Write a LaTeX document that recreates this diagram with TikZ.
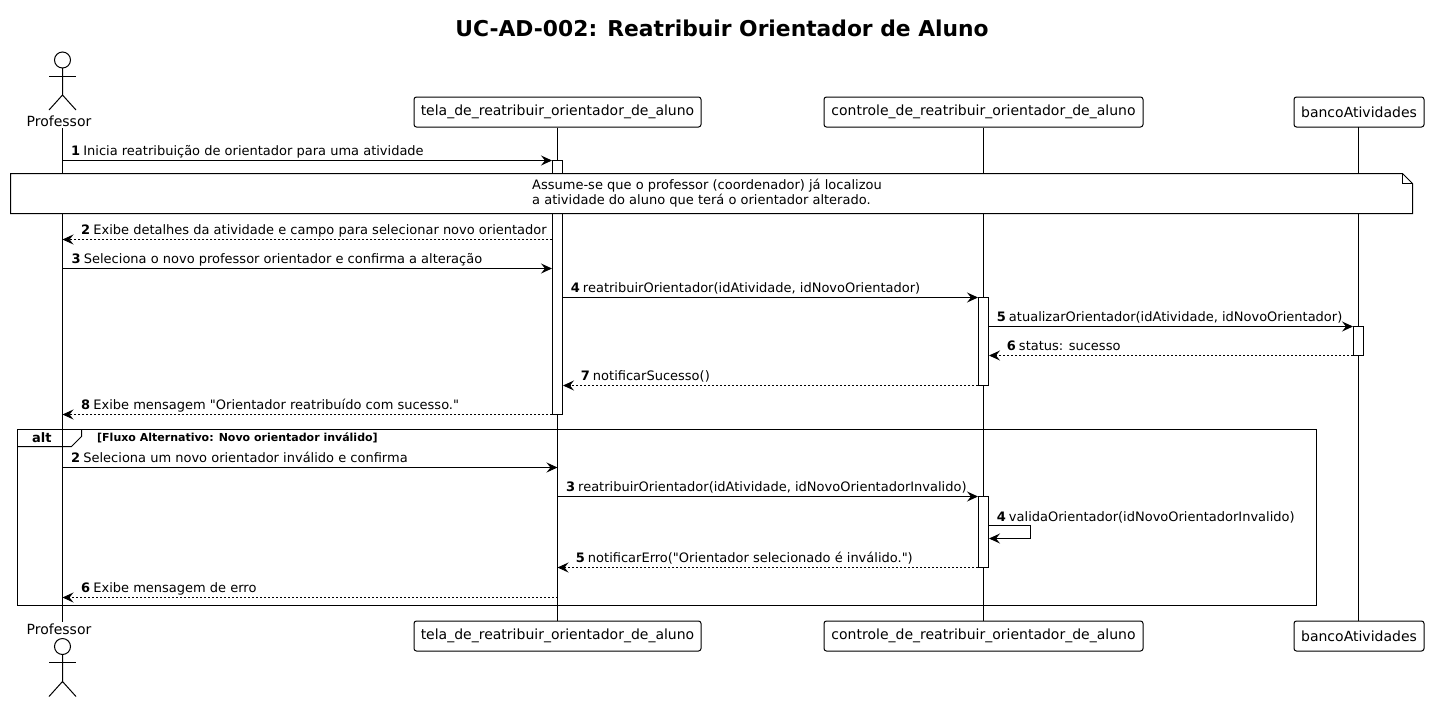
\documentclass[tikz,border=0pt]{standalone}
\usepackage{fontspec}
\setmainfont{DejaVu Sans}
\newfontfamily\msgfont{DejaVu Sans}
\usetikzlibrary{arrows.meta}

\newcommand{\seqno}[1]{\textbf{#1}\hspace{-1pt} }

\tikzset{
    party/.style={draw, line width=1pt, fill=white, rounded corners=2.5pt, minimum height=30pt, inner sep=0pt, font=\fontsize{14}{16}\selectfont},
    actorname/.style={inner sep=0pt, font=\fontsize{14}{16}\selectfont},
    lifebar/.style={draw, line width=1pt, fill=white, minimum width=10pt, inner sep=0pt},
    call/.style={line width=1pt, -{Stealth[length=11pt, width=10pt, inset=4pt]}},
    reply/.style={call, dash pattern=on 2pt off 2pt},
    msg/.style={anchor=base west, inner sep=0pt, font=\fontsize{13}{15}\selectfont\msgfont},
    guard/.style={anchor=base west, inner sep=0pt, font=\fontsize{11}{13}\selectfont\bfseries},
}

\begin{document}
\begin{tikzpicture}[x=1pt, y=-1pt]
    \useasboundingbox (0,0) rectangle (1429,702);

    % Title
    \node [inner sep=0pt, font=\fontsize{21.8}{26}\selectfont\bfseries] (title) at (722,28) {UC-AD-002: Reatribuir Orientador de Aluno};

    % Participants
    \node [party, minimum width=287pt] (telatop) at (557.5,112) {tela\_de\_reatribuir\_orientador\_de\_aluno};
    \node [party, minimum width=319pt] (ctrltop) at (983.5,112) {controle\_de\_reatribuir\_orientador\_de\_aluno};
    \node [party, minimum width=130pt] (bancotop) at (1359,112) {bancoAtividades};
    \node [party, minimum width=287pt] (telabot) at (557.5,636) {tela\_de\_reatribuir\_orientador\_de\_aluno};
    \node [party, minimum width=319pt] (ctrlbot) at (983.5,636) {controle\_de\_reatribuir\_orientador\_de\_aluno};
    \node [party, minimum width=130pt] (bancobot) at (1359,636) {bancoAtividades};
    \node [actorname] (proftop) at (59,121) {Professor};
    \node [actorname] (profbot) at (59,629) {Professor};
    \coordinate (prof) at (62.5,128);
    \coordinate (profend) at (62.5,621.5);
    \coordinate (banco) at (1358.5,127);
    \coordinate (bancoend) at (1358.5,621);

    % Actors
    \foreach \y in {60, 646.5} {
        \draw [line width=1pt] (62.5,\y) circle (8pt);
        \draw [line width=1pt] (62.5,\y+8) -- ++(0,27) ++(-13.5,15) -- ++(13.5,-15) -- ++(13.5,15);
        \draw [line width=1pt] (49,\y+16) -- ++(27,0);
    }

    % Lifelines
    \draw [line width=1pt] (prof) -- (profend);
    \draw [line width=1pt] (telatop) -- (telabot);
    \draw [line width=1pt] (ctrltop) -- (ctrlbot);
    \draw [line width=1pt] (banco) -- (bancoend);

    % Message rows
    \foreach \n/\y in {m1/160.5, m2/239.5, m3/268.5, m4/297.5, m5/326.5, m6/355.5, m7/385.5, m8/414.5, a2/467.5, a3/496.5, a4/525.5, a4b/538.5, a5/567.5, a6/597.5} \coordinate (\n) at (0,\y);
    \coordinate (volta) at (1030.5,0);

    % Activations
    \node [lifebar, minimum height=254pt] (bartela) at (557.5,287.5) {};
    \node [lifebar, minimum height=88pt] (barctrl) at (983.5,341.5) {};
    \node [lifebar, minimum height=29pt] (barbanco) at (1358.5,341) {};
    \node [lifebar, minimum height=71pt] (barerro) at (983.5,532) {};

    % Note
    \draw [line width=1pt, fill=white] (10.5,173.5) -- (1402.5,173.5) -- (1412.5,183.5) -- (1412.5,213.5) -- (10.5,213.5) -- cycle;
    \draw [line width=1pt] (1402.5,173.5) -- (1402.5,183.5) -- (1412.5,183.5);
    \node [anchor=west, align=left, inner sep=0pt, font=\fontsize{13}{15}\selectfont] (aviso) at (532,193.5) {Assume-se que o professor (coordenador) já localizou\\a atividade do aluno que terá o orientador alterado.};

    % Main flow
    \draw [call] (prof |- m1) -- (bartela.west |- m1);
    \node [msg] (l1) at (71,155) {\seqno{1}Inicia reatribuição de orientador para uma atividade};
    \draw [reply] (bartela.west |- m2) -- (prof |- m2);
    \node [msg] (l2) at (81,234) {\seqno{2}Exibe detalhes da atividade e campo para selecionar novo orientador};
    \draw [call] (prof |- m3) -- (bartela.west |- m3);
    \node [msg] (l3) at (71.5,263) {\seqno{3}Seleciona o novo professor orientador e confirma a alteração};
    \draw [call] (bartela.east |- m4) -- (barctrl.west |- m4);
    \node [msg] (l4) at (570.6,292) {\seqno{4}reatribuirOrientador(idAtividade, idNovoOrientador)};
    \draw [call] (barctrl.east |- m5) -- (barbanco.west |- m5);
    \node [msg] (l5) at (996.6,321) {\seqno{5}atualizarOrientador(idAtividade, idNovoOrientador)};
    \draw [reply] (barbanco.west |- m6) -- (barctrl.east |- m6);
    \node [msg] (l6) at (1006.6,350) {\seqno{6}status: sucesso};
    \draw [reply] (barctrl.west |- m7) -- (bartela.east |- m7);
    \node [msg] (l7) at (580.6,380) {\seqno{7}notificarSucesso()};
    \draw [reply] (bartela.west |- m8) -- (prof |- m8);
    \node [msg] (l8) at (81,409) {\seqno{8}Exibe mensagem "Orientador reatribuído com sucesso."};

    % Alternative flow
    \draw [line width=1pt] (17.5,429.5) rectangle (1316.5,605.5);
    \draw [line width=1pt] (17.5,446.5) -- (71.5,446.5) -- (81.5,436.5) -- (81.5,429.5);
    \node [anchor=base west, inner sep=0pt, font=\fontsize{13}{15}\selectfont\bfseries] (alt) at (32,442) {alt};
    \node [guard] (cond) at (97,441) {[Fluxo Alternativo: Novo orientador inválido]};
    \draw [call] (prof |- a2) -- (telatop |- a2);
    \node [msg] (e2) at (71,462) {\seqno{2}Seleciona um novo orientador inválido e confirma};
    \draw [call] (telatop |- a3) -- (barerro.west |- a3);
    \node [msg] (e3) at (565.8,491) {\seqno{3}reatribuirOrientador(idAtividade, idNovoOrientadorInvalido)};
    \draw [line width=1pt] (barerro.east |- a4) -- (volta |- a4) -- (volta |- a4b);
    \draw [call] (volta |- a4b) -- (barerro.east |- a4b);
    \node [msg] (e4) at (996.6,521) {\seqno{4}validaOrientador(idNovoOrientadorInvalido)};
    \draw [reply] (barerro.west |- a5) -- (telatop |- a5);
    \node [msg] (e5) at (575.6,562) {\seqno{5}notificarErro("Orientador selecionado é inválido.")};
    \draw [reply] (telatop |- a6) -- (prof |- a6);
    \node [msg] (e6) at (81,592) {\seqno{6}Exibe mensagem de erro};
\end{tikzpicture}
\end{document}
